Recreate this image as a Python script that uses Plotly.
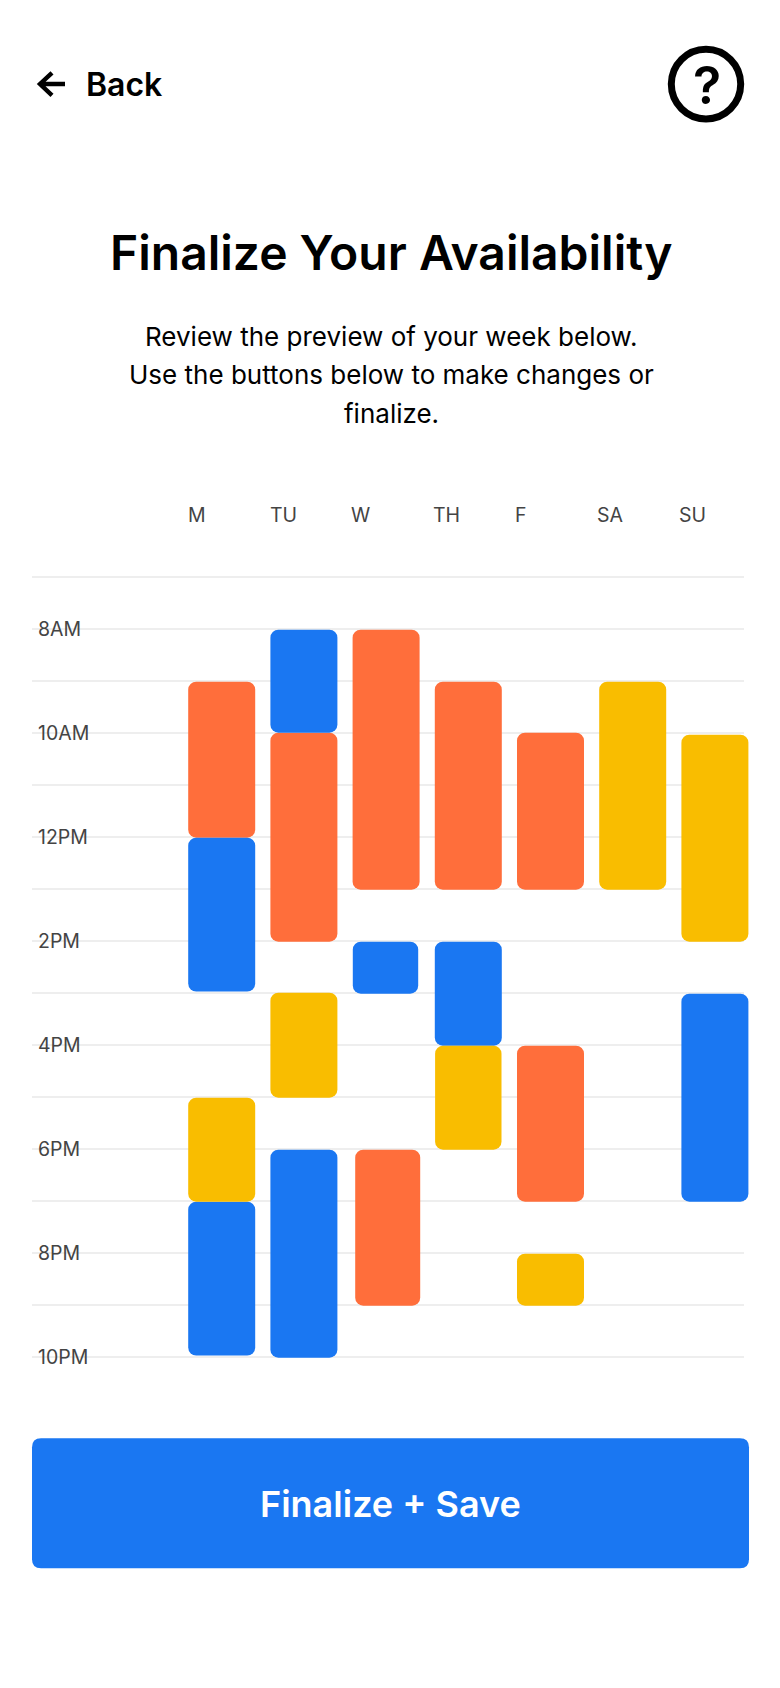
import plotly.graph_objects as go

# ---- data ----
day_labels = ["M", "TU", "W", "TH", "F", "SA", "SU"]
hour_ticks = list(range(7, 23))
hour_labels = {8: "8AM", 10: "10AM", 12: "12PM", 14: "2PM", 16: "4PM", 18: "6PM", 20: "8PM", 22: "10PM"}

orange_day = [0, 1, 2, 2, 3, 4, 4]
orange_start = [9, 9.98, 8, 18, 9, 9.98, 16]
orange_end = [12, 14, 13, 21, 13, 13, 19]

blue_day = [0, 0, 1, 1, 2, 3, 6]
blue_start = [12, 19, 8, 18, 14, 14, 15]
blue_end = [14.96, 21.96, 9.98, 22, 15, 16, 19]

yellow_day = [0, 1, 3, 4, 5, 6]
yellow_start = [17, 14.98, 16, 20, 9, 10.02]
yellow_end = [19, 17, 18, 21, 13, 14]

# ---- layout constants (pixels on the 780x1688 page) ----
W, H = 780, 1688
COL0, COLSTEP = 221.7, 82.2     # centre of first day column, distance between days
H8, HSTEP = 628.7, 52.0         # y of 8AM line, distance between hours
PLOT_L, PLOT_R = 32, 752
GRID_R = 744
BAR_W = 67.0
BAR_DROP = 1.0                  # bars sit about a pixel under their grid line
RADIUS = 8
BLUE, ORANGE, YELLOW = "#1A77F2", "#FF6E3B", "#F9BD00"
FONT = "Inter"

TOP = H8 - HSTEP * 1.6
BOT = H8 + HSTEP * 14.6

def px(x):
    return x / W

def py(y):
    return 1 - y / H

def xdata(x):
    return (x - COL0) / COLSTEP

def ydata(y):
    return 8 + (y - H8) / HSTEP

# small per-bar irregularities of the reference: (dx px, width px)
orange_tweak = {3: (1.6, 65.0)}
blue_tweak = {4: (-0.6, 65.4)}
yellow_tweak = {2: (0, 66.4)}

fig = go.Figure()

def add_blocks(name, colour, days, starts, ends, tweak):
    xs, widths, base, size = [], [], [], []
    drop = BAR_DROP / HSTEP
    for i, (d, s, e) in enumerate(zip(days, starts, ends)):
        dx, w = tweak.get(i, (0, BAR_W))
        xs.append(d + dx / COLSTEP)
        widths.append(w / COLSTEP)
        base.append(s + drop)
        size.append(e - s)
    fig.add_trace(go.Bar(
        x=xs, y=size, base=base, width=widths, name=name,
        marker=dict(color=colour, cornerradius=RADIUS, line=dict(width=0)),
        showlegend=False, hoverinfo="skip",
    ))

add_blocks("Orange", ORANGE, orange_day, orange_start, orange_end, orange_tweak)
add_blocks("Blue", BLUE, blue_day, blue_start, blue_end, blue_tweak)
add_blocks("Yellow", YELLOW, yellow_day, yellow_start, yellow_end, yellow_tweak)

annotations = []

def text(t, x, y, size, color="#000000", weight=400, anchor="center", xref="paper", xval=None, xshift=0):
    annotations.append(dict(
        text=t, xref=xref, yref="paper",
        x=px(x) if xval is None else xval, y=py(y), xshift=xshift,
        xanchor=anchor, yanchor="middle", showarrow=False,
        font=dict(family=FONT, size=size, color=color, weight=weight),
    ))

text("Back", 84, 84, 32, weight=600, anchor="left")
text("?", 707, 85, 52, weight=600)
text("Finalize Your Availability", 391, 253, 48, weight=600)
text("Review the preview of your week below.", 391, 337, 26)
text("Use the buttons below to make changes or", 391, 375, 26)
text("finalize.", 391, 413, 26)
for i, lab in enumerate(day_labels):
    text(lab, 0, 515, 19.5, color="#444444", anchor="left", xref="x",
         xval=i - BAR_W / 2 / COLSTEP, xshift=-2.5 - 0.35 * i)
text("Finalize + Save", 390, 1504, 36, color="#FFFFFF", weight=600)

def rounded(x0, y0, x1, y1, r):
    X, Y = px, py
    return (f"M{X(x0 + r)},{Y(y0)} L{X(x1 - r)},{Y(y0)} Q{X(x1)},{Y(y0)} {X(x1)},{Y(y0 + r)} "
            f"L{X(x1)},{Y(y1 - r)} Q{X(x1)},{Y(y1)} {X(x1 - r)},{Y(y1)} "
            f"L{X(x0 + r)},{Y(y1)} Q{X(x0)},{Y(y1)} {X(x0)},{Y(y1 - r)} "
            f"L{X(x0)},{Y(y0 + r)} Q{X(x0)},{Y(y0)} {X(x0 + r)},{Y(y0)} Z")

shapes = [
    # trims the grid lines short of the last column's right edge
    dict(type="rect", xref="x", yref="y", layer="between",
         x0=xdata(GRID_R), x1=xdata(PLOT_R + 1), y0=ydata(BOT), y1=ydata(TOP),
         fillcolor="#FFFFFF", line=dict(width=0)),
    # Finalize + Save button
    dict(type="path", xref="paper", yref="paper", path=rounded(32, 1438.2, 749, 1568.2, 9),
         fillcolor=BLUE, line=dict(width=0), layer="below"),
    # help icon ring
    dict(type="circle", xref="paper", yref="paper",
         x0=px(671.3), x1=px(740.7), y0=py(119), y1=py(49.2),
         line=dict(color="#000000", width=7), fillcolor="rgba(0,0,0,0)"),
    # back arrow
    dict(type="path", xref="paper", yref="paper",
         path=f"M{px(65)},{py(84)} L{px(40)},{py(84)} M{px(52)},{py(72.8)} "
              f"L{px(40)},{py(84)} L{px(52)},{py(95.3)}",
         line=dict(color="#000000", width=4.4)),
]

fig.update_layout(
    width=W, height=H, margin=dict(l=0, r=0, t=0, b=0),
    paper_bgcolor="#FFFFFF", plot_bgcolor="rgba(0,0,0,0)",
    barmode="overlay", showlegend=False,
    annotations=annotations, shapes=shapes,
    font=dict(family=FONT),
    xaxis=dict(
        domain=[px(PLOT_L), px(PLOT_R)],
        range=[xdata(PLOT_L), xdata(PLOT_R)],
        showgrid=False, zeroline=False, showline=False,
        showticklabels=False, ticks="",
    ),
    yaxis=dict(
        domain=[py(BOT), py(TOP)],
        range=[ydata(BOT), ydata(TOP)],
        tickmode="array", tickvals=hour_ticks,
        ticktext=[hour_labels.get(h, "") for h in hour_ticks],
        ticklabelposition="inside", ticks="", ticklabelstandoff=3,
        tickfont=dict(family=FONT, size=19.5, color="#444444"),
        showgrid=True, gridcolor="#EEEEEE", gridwidth=1.5,
        zeroline=False, showline=False,
    ),
)

fig.write_html("out.html", config=dict(displayModeBar=False),
               post_script="document.body.style.margin='0';document.body.style.overflow='hidden';")
